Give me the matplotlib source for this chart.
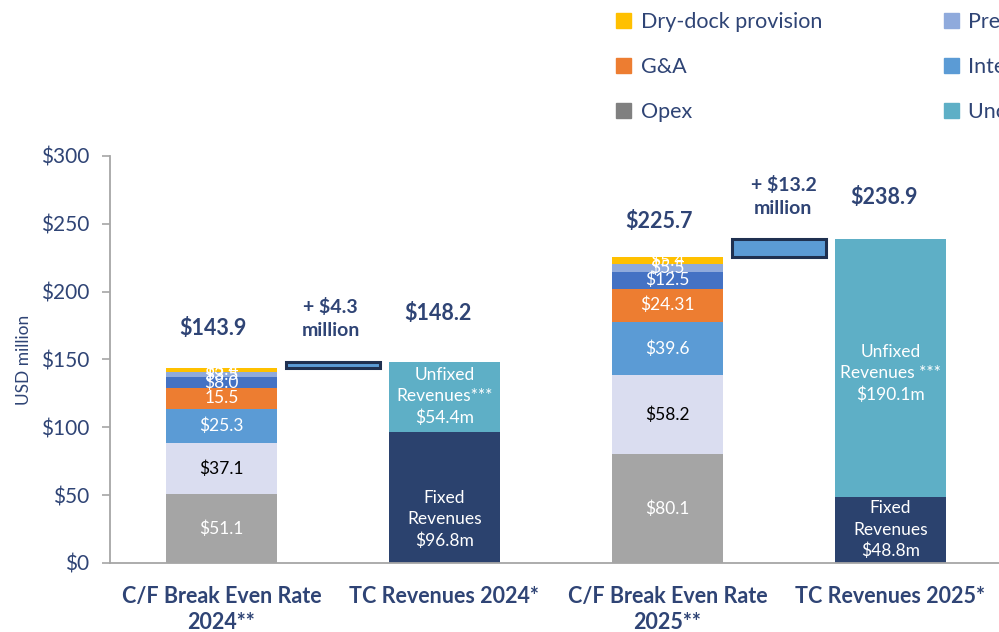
import matplotlib
matplotlib.use("Agg")
import matplotlib.pyplot as plt
from matplotlib.patches import Patch
import numpy as np

plt.rcParams['font.family'] = ['Lato', 'DejaVu Sans']

categories = ["C/F Break Even Rate\n2024**", "TC Revenues 2024*",
              "C/F Break Even Rate\n2025**", "TC Revenues 2025*"]

# Break-even cost components (2024, 2025)
be_opex = [51.1, 80.1]
be_debt = [37.1, 58.2]
be_other = [25.3, 39.6]
be_ga = [15.5, 24.31]
be_interest = [8.0, 12.5]
be_pref = [3.5, 5.5]
be_drydock = [3.4, 5.4]
be_totals = [143.9, 225.7]

be_labels_opex = ["$51.1", "$80.1"]
be_labels_debt = ["$37.1", "$58.2"]
be_labels_other = ["$25.3", "$39.6"]
be_labels_ga = ["15.5", "$24.31"]
be_labels_interest = ["$8.0", "$12.5"]
be_labels_pref = ["$3.5", "$5.5"]
be_labels_drydock = ["$3.4", "$5.4"]

# TC revenues (2024, 2025)
tc_totals = [148.2, 238.9]
tc_fixed = [96.8, 48.8]
tc_unfixed_drawn = [51.4, 190.1]
tc_fixed_labels = ["Fixed\nRevenues\n$96.8m", "Fixed\nRevenues\n$48.8m"]
tc_unfixed_labels = ["Unfixed\nRevenues***\n$54.4m", "Unfixed\nRevenues ***\n$190.1m"]

diff_labels = ["+ $4.3\nmillion", "+ $13.2\nmillion"]
total_labels_be = ["$143.9", "$225.7"]
total_labels_tc = ["$148.2", "$238.9"]

yticks = [0, 50, 100, 150, 200, 250, 300]
ytick_labels = ["$0", "$50", "$100", "$150", "$200", "$250", "$300"]

legend_labels = ["Dry-dock provision", "G&A", "Opex",
                 "Preferred dividends", "Interest", "Unchartered revenues"]

TXT = "#2F4475"
C_OPEX = "#A5A5A5"
C_DEBT = "#DADDF0"
C_OTHER = "#5B9BD5"
C_GA = "#ED7D31"
C_INT = "#4472C4"
C_PREF = "#8FAADC"
C_DD = "#FFC000"
C_UNF = "#5EAFC6"
C_FIX = "#2B426E"

fig = plt.figure(figsize=(9.99, 6.32), dpi=100)
ax = fig.add_axes([0.110, 0.1092, 0.893, 0.644])

x = np.arange(len(categories))
be_x = x[[0, 2]]
tc_x = x[[1, 3]]
w = 0.5

segs = [(be_opex, C_OPEX, be_labels_opex, "white"),
        (be_debt, C_DEBT, be_labels_debt, "black"),
        (be_other, C_OTHER, be_labels_other, "white"),
        (be_ga, C_GA, be_labels_ga, "white"),
        (be_interest, C_INT, be_labels_interest, "white"),
        (be_pref, C_PREF, be_labels_pref, "white"),
        (be_drydock, C_DD, be_labels_drydock, "white")]
bottom = np.zeros(2)
for vals, col, labs, tcol in segs:
    vals = np.array(vals)
    ax.bar(be_x, vals, w, bottom=bottom, color=col, edgecolor="none")
    for xi, b, v, lab in zip(be_x, bottom, vals, labs):
        ax.text(xi, b + v / 2, lab, ha="center", va="center", color=tcol, fontsize=12.5)
    bottom = bottom + vals

# TC revenue bars
ax.bar(tc_x, tc_fixed, w, color=C_FIX, edgecolor="none")
ax.bar(tc_x, tc_unfixed_drawn, w, bottom=tc_fixed, color=C_UNF, edgecolor="none")
fixed_text_y = [32, 24.4]
for xi, yv, lab in zip(tc_x, fixed_text_y, tc_fixed_labels):
    ax.text(xi, yv, lab, ha="center", va="center", color="white", fontsize=12.5, linespacing=1.4)
unfixed_text_y = [122.5, 139.5]
for xi, yv, lab in zip(tc_x, unfixed_text_y, tc_unfixed_labels):
    ax.text(xi, yv, lab, ha="center", va="center", color="white", fontsize=12.5, linespacing=1.4)

# Bridge bars
bridge_x = [(be_x[i] + tc_x[i]) / 2 for i in range(2)]
for i in range(2):
    ax.bar(bridge_x[i], tc_totals[i] - be_totals[i], 0.42, bottom=be_totals[i],
           color=C_OTHER, edgecolor="#1F3050", linewidth=2.2)

# Totals
be_off = [15, 12]
tc_off = [22, 16.5]
for xi, t, lab, o in zip(be_x, be_totals, total_labels_be, be_off):
    ax.text(xi - 0.04, t + o + 14, lab, ha="center", va="center", color=TXT,
            fontsize=15.5, fontweight="bold")
for xi, t, lab, o in zip(tc_x, tc_totals, total_labels_tc, tc_off):
    ax.text(xi - 0.03, t + o + 14, lab, ha="center", va="center", color=TXT,
            fontsize=15.5, fontweight="bold")
diff_y = [180, 270]
diff_dx = [-0.01, 0.02]
for xi, yv, lab, dx in zip(bridge_x, diff_y, diff_labels, diff_dx):
    ax.text(xi + dx, yv, lab, ha="center", va="center", color=TXT,
            fontsize=14, fontweight="bold", linespacing=1.45)

ax.set_xlim(-0.5, 3.5)
ax.set_ylim(0, 300)
ax.set_yticks(yticks)
ax.set_yticklabels(ytick_labels, color=TXT, fontsize=15)
ax.set_xticks(x)
ax.set_xticklabels(categories, color=TXT, fontsize=15.5, fontweight="bold", linespacing=1.3)
ax.tick_params(axis="x", length=0, pad=16.5)
ax.tick_params(axis="y", length=6, color="#A6A6A6", width=1.2, pad=9)
ax.set_ylabel("USD million", color=TXT, fontsize=12.5, labelpad=6)
for s in ["top", "right"]:
    ax.spines[s].set_visible(False)
for s in ["left", "bottom"]:
    ax.spines[s].set_color("#A6A6A6")
    ax.spines[s].set_linewidth(1.3)

handles = [Patch(color=c) for c in [C_DD, C_GA, "#808080", C_PREF, C_OTHER, C_UNF]]
fig.legend(handles, legend_labels, loc="upper left", bbox_to_anchor=(0.597, 1.011),
           ncol=2, frameon=False, fontsize=15.5, handlelength=0.7, handleheight=0.7,
           handletextpad=0.45, labelspacing=1.15, columnspacing=5.65, labelcolor=TXT)

fig.savefig("out.png", dpi=100)
